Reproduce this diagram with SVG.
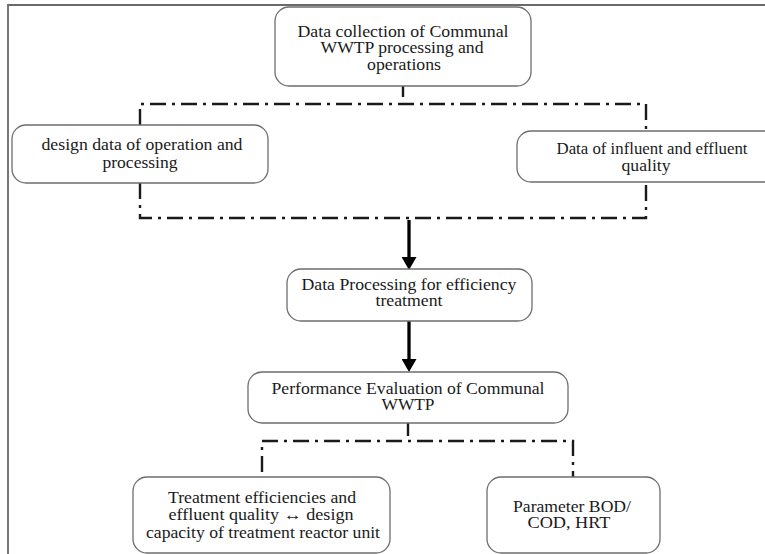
<svg xmlns="http://www.w3.org/2000/svg" width="765" height="554" viewBox="0 0 765 554">
<defs>
<style>
.box{fill:#fff;stroke:#6e6e6e;stroke-width:1.3}
.t{font-family:"Liberation Serif","Times New Roman",serif;font-size:16px;fill:#1a1a1a;text-anchor:middle}
.dd{fill:none;stroke:#1a1a1a;stroke-width:2.4;stroke-dasharray:16 6 3 6}
.solid{fill:none;stroke:#1a1a1a;stroke-width:2.4}
.arr{fill:none;stroke:#000;stroke-width:3.3}
.frame{fill:none;stroke:#6a6a6a;stroke-width:1.8}
</style>
<marker id="ah" viewBox="0 0 13 15" refX="0" refY="7.5" markerWidth="13" markerHeight="15" markerUnits="userSpaceOnUse" orient="auto">
<path d="M0,0 L13,7.5 L0,15 z" fill="#000"/>
</marker>
</defs>
<rect width="765" height="554" fill="#fff"/>
<path class="frame" d="M8,554 V5 H765"/>

<g id="connectors">
<line class="solid" x1="403" y1="86" x2="403" y2="97"/>
<path class="dd" d="M140,125 V104 H646 V131"/>
<path class="dd" d="M140,183 V218 H646 V182"/>
<line class="arr" x1="409" y1="220" x2="409" y2="257" marker-end="url(#ah)"/>
<line class="arr" x1="409" y1="321" x2="409" y2="359" marker-end="url(#ah)"/>
<line class="solid" x1="408" y1="423" x2="408" y2="436"/>
<path class="dd" d="M262,472 V441 H573 V477"/>
</g>

<g id="n-collection">
<rect class="box" x="275" y="7" width="256" height="79" rx="14"/>
<text class="t" x="403" y="37" textLength="211" lengthAdjust="spacingAndGlyphs">Data collection of Communal</text>
<text class="t" x="402" y="53" textLength="163" lengthAdjust="spacingAndGlyphs">WWTP processing and</text>
<text class="t" x="404" y="70" textLength="74" lengthAdjust="spacingAndGlyphs">operations</text>
</g>

<g id="n-design">
<rect class="box" x="12" y="125" width="256" height="58" rx="14"/>
<text class="t" x="142" y="150" textLength="201" lengthAdjust="spacingAndGlyphs">design data of operation and</text>
<text class="t" x="140" y="168" textLength="75" lengthAdjust="spacingAndGlyphs">processing</text>
</g>

<g id="n-influent">
<rect class="box" x="517" y="131" width="272" height="51" rx="14"/>
<text class="t" x="652" y="154" textLength="191" lengthAdjust="spacingAndGlyphs">Data of influent and effluent</text>
<text class="t" x="646" y="171" textLength="49" lengthAdjust="spacingAndGlyphs">quality</text>
</g>

<g id="n-processing">
<rect class="box" x="287" y="269" width="245" height="52" rx="14"/>
<text class="t" x="409" y="290" textLength="215" lengthAdjust="spacingAndGlyphs">Data Processing for efficiency</text>
<text class="t" x="409" y="306" textLength="67" lengthAdjust="spacingAndGlyphs">treatment</text>
</g>

<g id="n-performance">
<rect class="box" x="248" y="372" width="320" height="51" rx="14"/>
<text class="t" x="408" y="394" textLength="273" lengthAdjust="spacingAndGlyphs">Performance Evaluation of Communal</text>
<text class="t" x="408" y="410" textLength="53" lengthAdjust="spacingAndGlyphs">WWTP</text>
</g>

<g id="n-efficiency">
<rect class="box" x="133" y="477" width="257" height="76" rx="14"/>
<text class="t" x="262" y="503" textLength="188" lengthAdjust="spacingAndGlyphs">Treatment efficiencies and</text>
<text class="t" x="261" y="520" textLength="185" lengthAdjust="spacingAndGlyphs">effluent quality  ↔ design</text>
<text class="t" x="263" y="538" textLength="234" lengthAdjust="spacingAndGlyphs">capacity of treatment reactor unit</text>
</g>

<g id="n-parameter">
<rect class="box" x="487" y="477" width="173" height="76" rx="14"/>
<text class="t" x="572" y="512" textLength="118" lengthAdjust="spacingAndGlyphs">Parameter BOD/</text>
<text class="t" x="569" y="528" textLength="83" lengthAdjust="spacingAndGlyphs">COD, HRT</text>
</g>
</svg>
